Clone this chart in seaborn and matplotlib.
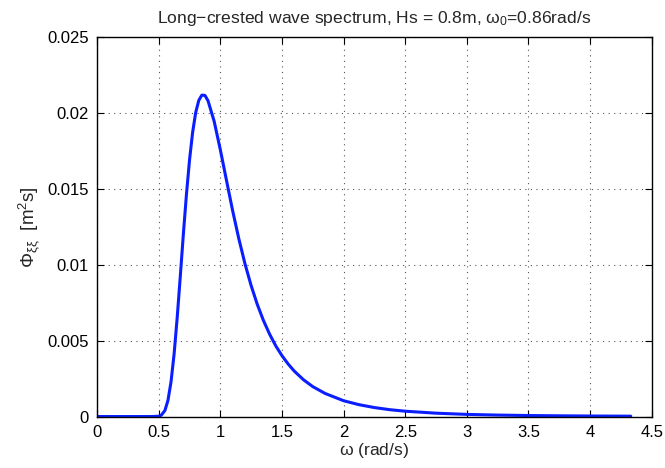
import numpy as np
import pandas as pd
import matplotlib
matplotlib.use("Agg")
import matplotlib.pyplot as plt
import seaborn as sns

# frequency (rad/s) and spectral density (m^2 s)
omega = [0.0, 0.25, 0.45, 0.50, 0.52, 0.55, 0.575, 0.60, 0.625, 0.65, 0.675,
         0.70, 0.725, 0.75, 0.775, 0.80, 0.825, 0.85, 0.875, 0.90, 0.95,
         1.00, 1.05, 1.10, 1.15, 1.20, 1.25, 1.30, 1.35, 1.40, 1.45, 1.50,
         1.55, 1.60, 1.675, 1.75, 1.85, 2.00, 2.125, 2.25, 2.375, 2.50,
         2.75, 3.00, 3.25, 3.50, 3.75, 4.00, 4.33]
phi = [0.0, 0.0, 0.0, 0.00002, 0.00008, 0.00039, 0.00106, 0.00229, 0.00413,
       0.00652, 0.00922, 0.01202, 0.01463, 0.01690, 0.01871, 0.02002, 0.02082,
       0.02117, 0.02115, 0.02080, 0.01944, 0.01757, 0.01555, 0.01355, 0.01171,
       0.01006, 0.00862, 0.00738, 0.00632, 0.00542, 0.00465, 0.00401,
       0.00346, 0.00299, 0.00242, 0.00197, 0.00152, 0.00104, 0.00078, 0.00059,
       0.00045, 0.00035, 0.00022, 0.00014, 0.000095, 0.000066, 0.000047,
       0.000034, 0.000023]

xticks = [0, 0.5, 1, 1.5, 2, 2.5, 3, 3.5, 4, 4.5]
xticklabels = ["0", "0.5", "1", "1.5", "2", "2.5", "3", "3.5", "4", "4.5"]
yticks = [0, 0.005, 0.01, 0.015, 0.02, 0.025]
yticklabels = ["0", "0.005", "0.01", "0.015", "0.02", "0.025"]

sns.set_style("ticks")
plt.rcParams['font.family'] = ['Liberation Sans', 'DejaVu Sans']
plt.rcParams['mathtext.fontset'] = 'custom'
plt.rcParams['mathtext.rm'] = 'Liberation Sans'
plt.rcParams['mathtext.it'] = 'Liberation Sans'
plt.rcParams['axes.unicode_minus'] = False

df = pd.DataFrame({"omega": omega, "phi": phi})

fig = plt.figure(figsize=(6.65, 4.68), dpi=100)
ax = fig.add_axes([0.146, 0.11, 0.834, 0.811])

sns.lineplot(data=df, x="omega", y="phi", color="#0a1eff", linewidth=2.2,
             estimator=None, sort=False, ax=ax)

ax.set_xlim(0, 4.5)
ax.set_ylim(0, 0.025)
ax.set_xticks(xticks)
ax.set_xticklabels(xticklabels)
ax.set_yticks(yticks)
ax.set_yticklabels(yticklabels)

ax.grid(True, linestyle=(0, (1, 4)), color="#555555", linewidth=0.8)
ax.tick_params(direction="in", top=True, right=True, length=5, width=0.8,
               labelsize=12, colors="black", pad=6)
for s in ax.spines.values():
    s.set_visible(True)
    s.set_color("black")
    s.set_linewidth(1.0)

ax.set_title("Long\u2212crested wave spectrum, Hs = 0.8m, $\\omega_0$=0.86rad/s",
             fontsize=12.6, pad=10)
ax.set_xlabel("$\\omega$ (rad/s)", fontsize=12.6, labelpad=1)
ax.set_ylabel("$\\Phi_{\\xi\\xi}$  [m$^2$s]", fontsize=13.5, labelpad=4)

fig.savefig("out.png", dpi=100)
